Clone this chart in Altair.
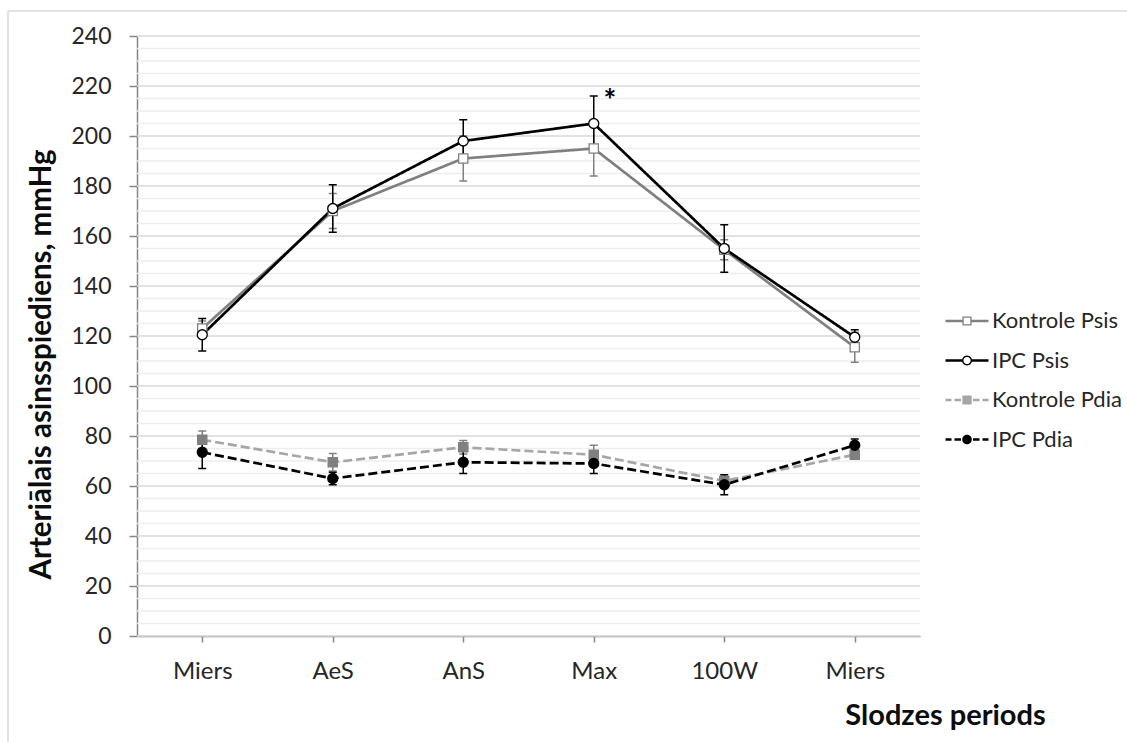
import json
import math

import altair as alt
import pandas as pd

# ---- data -------------------------------------------------------------
periods = ["Miers", "AeS", "AnS", "Max", "100W", "Miers"]
series_names = ["Kontrole Psis", "IPC Psis", "Kontrole Pdia", "IPC Pdia"]

kontrole_psis = [123.0, 170.0, 191.0, 195.0, 154.5, 115.5]
kontrole_psis_err = [3.0, 7.0, 9.0, 11.0, 4.0, 6.0]
ipc_psis = [120.5, 171.0, 198.0, 205.0, 155.0, 119.5]
ipc_psis_err = [6.5, 9.5, 8.5, 11.0, 9.5, 3.0]
kontrole_pdia = [78.5, 69.5, 75.5, 72.5, 62.0, 72.5]
kontrole_pdia_err = [3.5, 3.5, 2.7, 3.8, 2.0, 1.8]
ipc_pdia = [73.5, 63.0, 69.5, 69.0, 60.5, 76.3]
ipc_pdia_err = [6.5, 2.5, 4.5, 4.0, 4.0, 2.5]

# significance mark above the IPC Psis maximum
ann_step = [3]
ann_value = [216]
ann_text = ["*"]

# ---- styling per series -------------------------------------------------
line_colors = ["#808080", "#000000", "#a6a6a6", "#000000"]
marker_stroke = ["#808080", "#000000", "#808080", "#000000"]
marker_fill = ["#ffffff", "#ffffff", "#808080", "#000000"]
marker_shape = ["square", "circle", "square", "circle"]
marker_size = [85, 100, 85, 100]
line_dash = [[1, 0], [1, 0], [9, 4], [9, 4]]

FONT = "Lato"
TEXT_COLOR = "#262626"

rows = []
for name, vals, errs in zip(
    series_names,
    [kontrole_psis, ipc_psis, kontrole_pdia, ipc_pdia],
    [kontrole_psis_err, ipc_psis_err, kontrole_pdia_err, ipc_pdia_err],
):
    for i, (v, e) in enumerate(zip(vals, errs)):
        rows.append({"series": name, "step": i, "value": v, "lo": v - e, "hi": v + e})
df = pd.DataFrame(rows)

ann_df = pd.DataFrame({"step": ann_step, "value": ann_value, "text": ann_text})
minor_df = pd.DataFrame({"value": [v for v in range(0, 241, 5) if v % 20]})
major_df = pd.DataFrame({"value": list(range(0, 241, 20))})


# ---- legend glyphs: line segments + marker, drawn as filled paths -------
UNIT = 10.0  # symbol size 400 -> one path unit is 10 px


def _n(v):
    return f"{v / UNIT:.3f}"


def seg(x0, x1, h=1.3):
    return f"M{_n(x0)},{_n(-h)}H{_n(x1)}V{_n(h)}H{_n(x0)}Z"


def square(a, reverse=False):
    if reverse:
        return f"M{_n(-a)},{_n(-a)}V{_n(a)}H{_n(a)}V{_n(-a)}Z"
    return f"M{_n(-a)},{_n(-a)}H{_n(a)}V{_n(a)}H{_n(-a)}Z"


def circle(r, reverse=False, n=28):
    pts = [(r * math.cos(2 * math.pi * k / n), r * math.sin(2 * math.pi * k / n)) for k in range(n)]
    if reverse:
        pts = pts[::-1]
    return "M" + "L".join(f"{_n(x)},{_n(y)}" for x, y in pts) + "Z"


solid = seg(-21.5, -4.5) + seg(4.5, 21.5)
dashed = seg(-21.5, -15.5) + seg(-12.5, -6) + seg(6, 12.5) + seg(15.5, 21.5)
legend_paths = [
    solid + square(4.6) + square(3.3, reverse=True),
    solid + circle(5.0) + circle(3.6, reverse=True),
    dashed + square(4.6),
    dashed + circle(4.8),
]

# ---- scales and axes ------------------------------------------------------
x_axis = alt.Axis(
    labelExpr=f"{json.dumps(periods)}[datum.value]",
    title="Slodzes periods",
    titleX=808, titleY=88, titleAlign="center", titleBaseline="alphabetic",
    titleFontSize=29, titleFont=FONT, titleFontWeight="bold", titleColor="#0d0d0d",
    labelFont=FONT, labelFontSize=24, labelColor=TEXT_COLOR, labelAngle=0,
    labelPadding=17, tickSize=6, tickWidth=1.5, tickColor="#868686",
    domainColor="#868686", domainWidth=1.5, grid=False,
)
x_enc = alt.X("step:O", scale=alt.Scale(type="point", padding=0.5), axis=x_axis)

y_scale = alt.Scale(domain=[0, 240], nice=False, zero=True)
y_axis = alt.Axis(
    values=list(range(0, 241, 20)),
    title="Arteriālais asinsspiediens, mmHg",
    titleX=-87, titleY=328, titleAlign="center", titleBaseline="alphabetic", titleAngle=270,
    titleFontSize=29.5, titleFont=FONT, titleFontWeight="bold", titleColor="#0d0d0d",
    labelFont=FONT, labelFontSize=23, labelColor=TEXT_COLOR,
    labelPadding=18, tickSize=8, tickWidth=1.5, tickColor="#868686",
    domainColor="#868686", domainWidth=1.5, grid=False,
)


def y_of(field):
    return alt.Y(f"{field}:Q", scale=y_scale, axis=y_axis)


legend = alt.Legend(
    title=None, orient="none", legendX=819, legendY=274, padding=0,
    labelFont=FONT, labelFontSize=22, labelColor=TEXT_COLOR, labelLimit=300,
    labelOffset=14, rowPadding=17.5, symbolSize=400, symbolStrokeWidth=0,
    symbolOpacity=1,
)

# ---- layers -------------------------------------------------------------
grid_minor = alt.Chart(minor_df).mark_rule(color="#eeeeee", strokeWidth=1.5).encode(y=y_of("value"))
grid_major = alt.Chart(major_df).mark_rule(color="#d9d9d9", strokeWidth=1.5).encode(y=y_of("value"))

base = alt.Chart(df)

err_layers, line_layers, point_layers = [], [], []
for name, lcol, mstroke, mfill, mshape, msize, dash in zip(
    series_names, line_colors, marker_stroke, marker_fill, marker_shape, marker_size, line_dash
):
    sub = base.transform_filter(alt.datum.series == name)
    err_layers += [
        sub.mark_rule(strokeWidth=1.5, color=mstroke).encode(x=x_enc, y=y_of("lo"), y2="hi:Q"),
        sub.mark_point(shape="stroke", size=64, strokeWidth=1.5, opacity=1, color=mstroke)
        .encode(x=x_enc, y=y_of("hi")),
        sub.mark_point(shape="stroke", size=64, strokeWidth=1.5, opacity=1, color=mstroke)
        .encode(x=x_enc, y=y_of("lo")),
    ]
    line_layers.append(
        sub.mark_line(strokeWidth=2.7, color=lcol, strokeDash=dash).encode(x=x_enc, y=y_of("value"))
    )
    point_layers.append(
        sub.mark_point(shape=mshape, size=msize, strokeWidth=1.3, opacity=1,
                       stroke=mstroke, fill=mfill, filled=True)
        .encode(x=x_enc, y=y_of("value"))
    )

# legend-only layer: no rows survive the filter, the scales carry the domain
legend_layer = base.transform_filter("false").mark_point(
    filled=True, opacity=1, strokeWidth=0
).encode(
    x=x_enc, y=y_of("value"),
    color=alt.Color("series:N", scale=alt.Scale(domain=series_names, range=line_colors), legend=legend),
    shape=alt.Shape("series:N", scale=alt.Scale(domain=series_names, range=legend_paths), legend=legend),
)

star = alt.Chart(ann_df).mark_text(
    font=FONT, fontSize=30, fontWeight="bold", color="#000000", dx=16, dy=6, baseline="middle"
).encode(x=x_enc, y=y_of("value"), text="text:N")

# thin frame around the whole figure
frame_df = pd.DataFrame({"k": [0]})
frame_top = alt.Chart(frame_df).mark_rule(color="#d9d9d9", strokeWidth=1.5).encode(
    x=alt.value(-129), x2=alt.value(1000), y=alt.value(-25)
)
frame_left = alt.Chart(frame_df).mark_rule(color="#d9d9d9", strokeWidth=1.5).encode(
    x=alt.value(-129), y=alt.value(-25), y2=alt.value(720)
)

chart = alt.layer(
    grid_minor, grid_major, frame_top, frame_left,
    *err_layers, *line_layers, *point_layers, legend_layer, star,
).properties(
    width=783, height=600,
    autosize=alt.AutoSizeParams(type="none"),
    padding={"left": 137, "top": 36, "right": 207, "bottom": 106},
    background="#ffffff",
).configure_view(stroke=None)

chart.save("out.html", embed_options={"renderer": "svg", "actions": False})
